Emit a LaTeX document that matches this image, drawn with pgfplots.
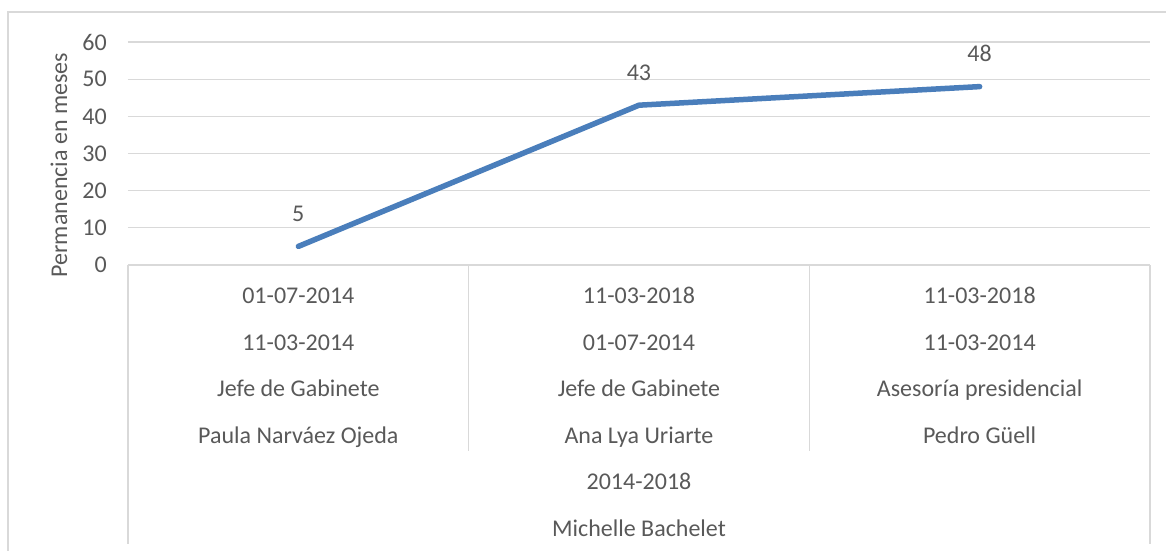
\documentclass[border=0pt]{standalone}
\usepackage{fontspec}
\setmainfont{Carlito}
\usepackage{pgfplots}
\pgfplotsset{compat=1.18}
\definecolor{txt}{HTML}{595959}
\definecolor{grd}{HTML}{D9D9D9}
\definecolor{ln}{HTML}{4A7EBB}
\newcommand{\fs}{\fontsize{24}{28}\selectfont}
\tikzset{lab/.style={anchor=base, font=\fs, text=txt, inner sep=0pt}}
\begin{document}
\begin{tikzpicture}
\useasboundingbox (-128pt,-285pt) rectangle (1038pt,265pt);
\draw[grd, line width=1.2pt] (-120pt,-300pt) -- (-120pt,253pt) -- (1050pt,253pt);
\begin{axis}[
  at={(0pt,0pt)}, anchor=south west,
  scale only axis, width=1022pt, height=223pt,
  xmin=-0.5, xmax=2.5, ymin=0, ymax=60,
  ytick={0,10,...,60}, xtick=\empty,
  axis line style={draw=none},
  ymajorgrids, grid style={grd, line width=1.2pt},
  major tick length=0pt,
  /pgf/number format/assume math mode=true,
  yticklabel style={anchor=east, inner sep=0pt, xshift=-21pt, font=\fs, text=txt},
  ylabel={Permanencia en meses},
  ylabel style={at={(axis description cs:-0.0675,0.448)}, anchor=center, font=\fs, text=txt},
  clip=false,
]
\addplot[ln, line width=5.5pt, line cap=round, line join=round, mark=none,
  nodes near coords,
  nodes near coords style={anchor=base, yshift=25pt, font=\fs, text=txt, inner sep=0pt}]
  coordinates {(0,5) (1,43) (2,48)};
\draw[grd, line width=1.2pt] (rel axis cs:0,0) -- ++(0pt,-279pt);
\draw[grd, line width=1.2pt] (rel axis cs:1,0) -- ++(0pt,-279pt);
\draw[grd, line width=1.2pt] (axis cs:0.5,0) -- ++(0pt,-186pt);
\draw[grd, line width=1.2pt] (axis cs:1.5,0) -- ++(0pt,-186pt);
\node[lab, yshift=-38.5pt] at (axis cs:0,0) {01-07-2014};
\node[lab, yshift=-85pt] at (axis cs:0,0) {11-03-2014};
\node[lab, yshift=-131.5pt] at (axis cs:0,0) {Jefe de Gabinete};
\node[lab, yshift=-178pt] at (axis cs:0,0) {Paula Narváez Ojeda};
\node[lab, yshift=-38.5pt] at (axis cs:1,0) {11-03-2018};
\node[lab, yshift=-85pt] at (axis cs:1,0) {01-07-2014};
\node[lab, yshift=-131.5pt] at (axis cs:1,0) {Jefe de Gabinete};
\node[lab, yshift=-178pt] at (axis cs:1,0) {Ana Lya Uriarte};
\node[lab, yshift=-38.5pt] at (axis cs:2,0) {11-03-2018};
\node[lab, yshift=-85pt] at (axis cs:2,0) {11-03-2014};
\node[lab, yshift=-131.5pt] at (axis cs:2,0) {Asesoría presidencial};
\node[lab, yshift=-178pt] at (axis cs:2,0) {Pedro Güell};
\node[lab, yshift=-224.5pt] at (axis cs:1,0) {2014-2018};
\node[lab, yshift=-271pt] at (axis cs:1,0) {Michelle Bachelet};
\end{axis}
\end{tikzpicture}
\end{document}
